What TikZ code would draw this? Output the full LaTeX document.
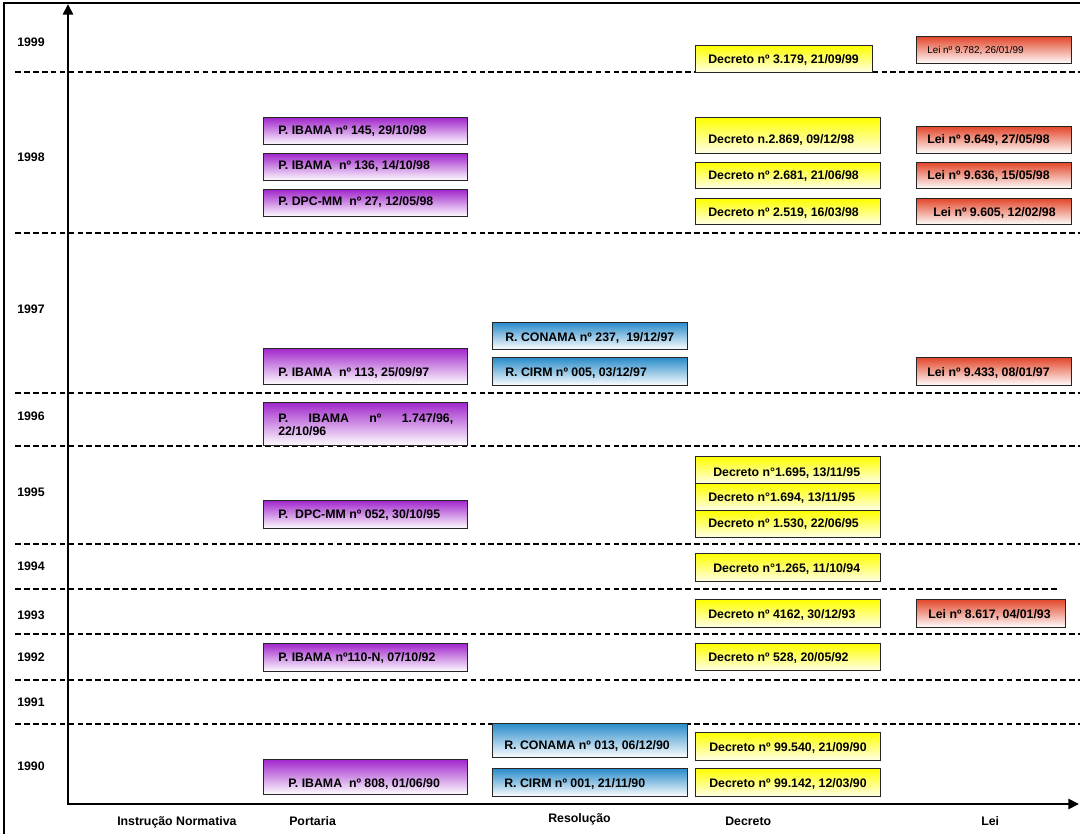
\documentclass[tikz,border=0pt]{standalone}
\usepackage{fontspec}
\setmainfont{Liberation Sans}
\usetikzlibrary{arrows.meta}
\definecolor{purp}{RGB}{162,40,204}
\definecolor{blu}{RGB}{42,140,202}
\definecolor{yel}{RGB}{255,255,0}
\definecolor{redd}{RGB}{226,72,44}
\tikzset{
  btxt/.style={font=\fontsize{9.25}{10}\selectfont\bfseries, inner sep=0pt},
  ylab/.style={font=\fontsize{9.25}{10}\selectfont\bfseries, inner sep=0pt, anchor=base west},
  axlab/.style={font=\fontsize{9.25}{10}\selectfont\bfseries, inner sep=0pt, anchor=base west},
  boxbase/.style={draw=black!85, line width=1pt, inner sep=0pt},
  pbox/.style={boxbase, top color=purp, middle color=purp!45, bottom color=white},
  bbox/.style={boxbase, top color=blu, middle color=blu!45, bottom color=white},
  ybox/.style={boxbase, top color=yel, middle color=yel!85, bottom color=yellow!8},
  rbox/.style={boxbase, top color=redd, middle color=redd!45, bottom color=white},
  sep/.style={dash pattern=on 4.3pt off 2.4pt, line width=1.3pt},
  axisline/.style={line width=2.1pt, {Triangle[length=8pt,width=7.5pt]}-{Triangle[length=8pt,width=7.5pt]}},
  frame/.style={line width=1.8pt},
}
\newcommand\gbox[9]{%
  \node[#6, minimum width={(#4-#2)*0.75pt}, minimum height={(#5-#3)*0.75pt}, anchor=north west] (#1) at (#2,#3) {};
  \node[btxt, anchor=base west] (#1t) at ({#7},{#8+4}) {#9};
}
\begin{document}
\begin{tikzpicture}[x=0.75pt,y=-0.75pt]
\useasboundingbox (0,0) rectangle (1080,834);
% frame
\draw[frame] (4,834) -- (4,3) -- (1080,3);
% separators
\foreach \yy in {72,233,393,446,544,634,680,724}
  \draw[sep] (15,\yy) -- (1080,\yy);
\draw[sep] (15,589) -- (1057,589);
% year labels
\node[ylab] (y1999) at (17,47) {1999};
\node[ylab] (y1998) at (17,162) {1998};
\node[ylab] (y1997) at (17,313) {1997};
\node[ylab] (y1996) at (17,420) {1996};
\node[ylab] (y1995) at (17,496) {1995};
\node[ylab] (y1994) at (17,570) {1994};
\node[ylab] (y1993) at (17,619) {1993};
\node[ylab] (y1992) at (17,661) {1992};
\node[ylab] (y1991) at (17,706) {1991};
\node[ylab] (y1990) at (17,770) {1990};
% Portaria
\gbox{p145}{263}{117}{467}{144}{pbox}{278}{131}{P. IBAMA nº 145, 29/10/98}
\gbox{p136}{263}{153}{467}{180}{pbox}{278}{166}{P. IBAMA\ \ nº 136, 14/10/98}
\gbox{pdpc27}{263}{189}{467}{216}{pbox}{278}{202}{P. DPC-MM\ \ nº 27, 12/05/98}
\gbox{p113}{263}{348}{467}{384}{pbox}{278}{372}{P. IBAMA\ \ nº 113, 25/09/97}
\node[pbox, minimum width={204*0.75pt}, minimum height={43*0.75pt}, anchor=north west] (p1747) at (263,402) {};
\node[font=\fontsize{9.25}{9.75}\selectfont\bfseries, inner sep=0pt, anchor=north west, text width={175*0.75pt}, align=left] (p1747t) at (278,413) {P.\hfill IBAMA\hfill nº\hfill 1.747/96,\\22/10/96};
\gbox{pdpc052}{263}{500}{467}{528}{pbox}{278}{514}{P.\ \ DPC-MM nº 052, 30/10/95}
\gbox{p110}{263}{643}{467}{671}{pbox}{278}{657}{P. IBAMA nº110-N, 07/10/92}
\gbox{p808}{263}{759}{467}{794}{pbox}{288}{783}{P. IBAMA\ \ nº 808, 01/06/90}
% Resolucao
\gbox{r237}{492}{322}{687}{349}{bbox}{505}{337}{R. CONAMA nº 237,\ \ 19/12/97}
\gbox{r005}{492}{357}{687}{385}{bbox}{505}{372}{R. CIRM nº 005, 03/12/97}
\gbox{r013}{492}{723}{687}{757}{bbox}{504}{745}{R. CONAMA nº 013, 06/12/90}
\gbox{r001}{492}{768}{687}{796}{bbox}{504}{783}{R. CIRM nº 001, 21/11/90}
% Decreto
\gbox{d3179}{695}{45}{872}{72}{ybox}{708}{60}{Decreto nº 3.179, 21/09/99}
\gbox{d2869}{695}{117}{880}{153}{ybox}{708}{140}{Decreto n.2.869, 09/12/98}
\gbox{d2681}{695}{162}{880}{188}{ybox}{708}{176}{Decreto nº 2.681, 21/06/98}
\gbox{d2519}{695}{198}{880}{224}{ybox}{708}{212}{Decreto nº 2.519, 16/03/98}
\gbox{d1695}{695}{456}{880}{483}{ybox}{713}{472}{Decreto n°1.695, 13/11/95}
\gbox{d1694}{695}{483}{880}{510}{ybox}{708}{497}{Decreto n°1.694, 13/11/95}
\gbox{d1530}{695}{510}{880}{537}{ybox}{708}{523}{Decreto nº 1.530, 22/06/95}
\gbox{d1265}{695}{553}{880}{581}{ybox}{713}{568}{Decreto n°1.265, 11/10/94}
\gbox{d4162}{695}{599}{880}{627}{ybox}{708}{614}{Decreto nº 4162, 30/12/93}
\gbox{d528}{695}{643}{880}{670}{ybox}{708}{657}{Decreto nº 528, 20/05/92}
\gbox{d99540}{695}{732}{880}{760}{ybox}{709}{747}{Decreto nº 99.540, 21/09/90}
\gbox{d99142}{695}{768}{880}{796}{ybox}{709}{783}{Decreto nº 99.142, 12/03/90}
% Lei
\node[rbox, minimum width={155*0.75pt}, minimum height={27*0.75pt}, anchor=north west] (l9782) at (916,36) {};
\node[font=\fontsize{7.4}{8}\selectfont, inner sep=0pt, anchor=base west] (l9782t) at (927,54) {Lei nº 9.782, 26/01/99};
\gbox{l9649}{916}{126}{1071}{153}{rbox}{927}{140}{Lei nº 9.649, 27/05/98}
\gbox{l9636}{916}{162}{1071}{188}{rbox}{927}{176}{Lei nº 9.636, 15/05/98}
\gbox{l9605}{916}{198}{1071}{224}{rbox}{933}{212}{Lei nº 9.605, 12/02/98}
\gbox{l9433}{916}{357}{1071}{385}{rbox}{927}{372}{Lei nº 9.433, 08/01/97}
\gbox{l8617}{916}{599}{1065}{627}{rbox}{928}{614}{Lei nº 8.617, 04/01/93}
% axes
\coordinate (Ytop) at (68,4);
\coordinate (O) at (68,804);
\coordinate (Xend) at (1079,804);
\draw[axisline] (Ytop) -- (O) -- (Xend);
% axis labels
\node[axlab] (lin) at (117,825) {Instrução Normativa};
\node[axlab] (lport) at (289,825) {Portaria};
\node[axlab] (lres) at (548,822) {Resolução};
\node[axlab] (ldec) at (725,825) {Decreto};
\node[axlab] (llei) at (981,825) {Lei};
\end{tikzpicture}
\end{document}
